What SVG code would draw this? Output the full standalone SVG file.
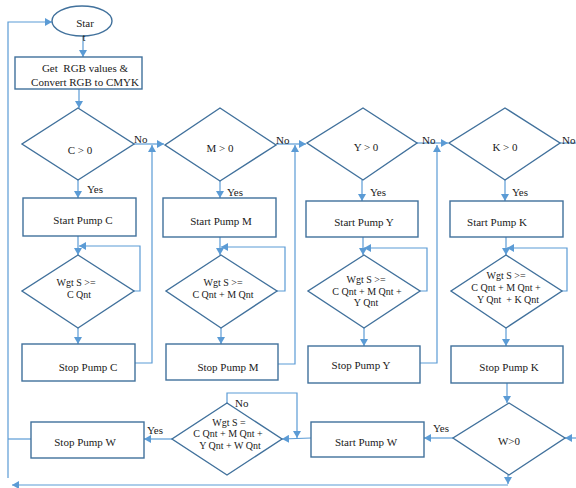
<svg xmlns="http://www.w3.org/2000/svg" width="576" height="488" viewBox="0 0 576 488" font-family="'Liberation Serif', 'Times New Roman', serif">
<defs>
<marker id="ah" markerUnits="userSpaceOnUse" markerWidth="8" markerHeight="8" refX="7" refY="4" orient="auto">
<path d="M0,0 L7,4 L0,8 z" fill="#5B9BD5"/>
</marker>
<style>
.s{fill:#fff;stroke:#41719C;stroke-width:1.4}
.c{fill:none;stroke:#5B9BD5;stroke-width:1.2}
.a{marker-end:url(#ah)}
text{font-family:'Liberation Serif','Times New Roman',serif;fill:#1a1a1a;font-size:11px}
.m{text-anchor:middle}
.d{font-size:10px}
</style>
</defs>
<rect width="576" height="488" fill="#fff"/>
<g id="connectors">
<polyline class="c a" points="8,478 8,22 52,22"/>
<line class="c a" x1="83" y1="36" x2="83" y2="57"/>
<line class="c a" x1="79" y1="89" x2="79" y2="108"/>
<line class="c a" x1="78" y1="180" x2="78" y2="198"/>
<line class="c a" x1="133" y1="144" x2="164" y2="144"/>
<line class="c a" x1="78" y1="236" x2="78" y2="255"/>
<polyline class="c a" points="133,291 140,291 140,246 79,246"/>
<line class="c a" x1="78" y1="328" x2="78" y2="344"/>
<polyline class="c a" points="135,363 152,363 152,145"/>
<line class="c a" x1="220" y1="181" x2="220" y2="198"/>
<line class="c a" x1="276" y1="144" x2="306" y2="144"/>
<line class="c a" x1="220" y1="237" x2="220" y2="255"/>
<polyline class="c a" points="277,291 285,291 285,247 221,247"/>
<line class="c a" x1="221" y1="328" x2="221" y2="344"/>
<polyline class="c a" points="278,364 295,364 295,145"/>
<line class="c a" x1="362" y1="180" x2="362" y2="201"/>
<line class="c a" x1="417" y1="143" x2="448" y2="143"/>
<line class="c a" x1="363" y1="237" x2="363" y2="255"/>
<polyline class="c a" points="420,291 427,291 427,248 364,248"/>
<line class="c a" x1="364" y1="328" x2="364" y2="346"/>
<polyline class="c a" points="420,363 437,363 437,145"/>
<line class="c a" x1="505" y1="180" x2="505" y2="201"/>
<line class="c" x1="560" y1="143" x2="576" y2="143"/>
<line class="c a" x1="506" y1="237" x2="506" y2="255"/>
<polyline class="c a" points="562,291 567,291 567,248 507,248"/>
<line class="c a" x1="506" y1="328" x2="506" y2="346"/>
<line class="c a" x1="507" y1="383" x2="507" y2="403"/>
<line class="c a" x1="577" y1="438" x2="565" y2="438"/>
<line class="c a" x1="453" y1="438" x2="424" y2="438"/>
<line class="c a" x1="311" y1="438" x2="282" y2="439"/>
<polyline class="c a" points="227,403 227,393 297,393 297,438"/>
<line class="c a" x1="172" y1="439" x2="144" y2="439"/>
<line class="c" x1="31" y1="439" x2="8" y2="439"/>
<line class="c a" x1="508" y1="475" x2="508" y2="484"/>
<polyline class="c a" points="508,485 12,485"/>
</g>
<g id="start"><ellipse class="s" cx="82" cy="21" rx="30" ry="15"/><text class="m" x="85" y="27">Star</text><text class="m" x="84" y="41">t</text></g>
<g id="getrgb"><rect class="s" x="15" y="57" width="127" height="32"/><text class="m" x="85" y="72" xml:space="preserve">Get  RGB values &amp;</text><text class="m" x="85" y="86">Convert RGB to CMYK</text></g>
<g id="c0"><polygon class="s" points="78,108 134,144 78,180 22,144"/><text class="m" x="80" y="154">C &gt; 0</text></g>
<g id="m0"><polygon class="s" points="220,108 276,145 220,181 165,145"/><text class="m" x="220" y="152">M &gt; 0</text></g>
<g id="y0"><polygon class="s" points="363,108 417,143 363,180 307,143"/><text class="m" x="366" y="151">Y &gt; 0</text></g>
<g id="k0"><polygon class="s" points="505,108 560,143 505,180 449,143"/><text class="m" x="505" y="151">K &gt; 0</text></g>
<g id="startC"><rect class="s" x="23" y="198" width="113" height="38"/><text class="m" x="83" y="224">Start Pump C</text></g>
<g id="startM"><rect class="s" x="163" y="198" width="113" height="39"/><text class="m" x="221" y="225">Start Pump M</text></g>
<g id="startY"><rect class="s" x="306" y="201" width="112" height="36"/><text class="m" x="364" y="226">Start Pump Y</text></g>
<g id="startK"><rect class="s" x="450" y="201" width="113" height="36"/><text class="m" x="497" y="226">Start Pump K</text></g>
<g id="wgtC"><polygon class="s" points="78,255 134,291 78,328 22,291"/><text class="m d" x="76" y="286">Wgt S &gt;=</text><text class="m d" x="79" y="298">C Qnt</text></g>
<g id="wgtM"><polygon class="s" points="221,255 277,291 221,328 166,291"/><text class="m d" x="223" y="286">Wgt S &gt;=</text><text class="m d" x="223" y="298">C Qnt + M Qnt</text></g>
<g id="wgtY"><polygon class="s" points="364,255 420,291 364,328 308,291"/><text class="m d" x="366" y="283">Wgt S &gt;=</text><text class="m d" x="367" y="295">C Qnt + M Qnt +</text><text class="m d" x="366" y="306">Y Qnt</text></g>
<g id="wgtK"><polygon class="s" points="506,255 562,291 506,328 451,291"/><text class="m d" x="506" y="279">Wgt S &gt;=</text><text class="m d" x="506" y="291">C Qnt + M Qnt +</text><text class="m d" x="508" y="303" xml:space="preserve">Y Qnt  + K Qnt</text></g>
<g id="stopC"><rect class="s" x="22" y="344" width="113" height="37"/><text class="m" x="88" y="371">Stop Pump C</text></g>
<g id="stopM"><rect class="s" x="166" y="344" width="112" height="36"/><text class="m" x="228" y="371">Stop Pump M</text></g>
<g id="stopY"><rect class="s" x="308" y="346" width="112" height="37"/><text class="m" x="361" y="369">Stop Pump Y</text></g>
<g id="stopK"><rect class="s" x="451" y="346" width="112" height="37"/><text class="m" x="509" y="371">Stop Pump K</text></g>
<g id="w0"><polygon class="s" points="509,403 565,438 509,475 453,438"/><text class="m" x="509" y="445">W&gt;0</text></g>
<g id="startW"><rect class="s" x="311" y="422" width="113" height="35"/><text class="m" x="366" y="446">Start Pump W</text></g>
<g id="wgtW"><polygon class="s" points="227,403 282,439 227,475 172,439"/><text class="m d" x="229" y="426">Wgt S =</text><text class="m d" x="228" y="437">C Qnt + M Qnt +</text><text class="m d" x="230" y="449">Y Qnt + W Qnt</text></g>
<g id="stopW"><rect class="s" x="31" y="422" width="113" height="36"/><text class="m" x="85" y="446">Stop Pump W</text></g>
<g id="labels">
<text x="134" y="143">No</text>
<text x="276" y="144">No</text>
<text x="422" y="144">No</text>
<text x="562" y="144">No</text>
<text x="87" y="193">Yes</text>
<text x="227" y="196">Yes</text>
<text x="370" y="196">Yes</text>
<text x="512" y="196">Yes</text>
<text x="433" y="432">Yes</text>
<text x="235" y="407">No</text>
<text x="147" y="434">Yes</text>
</g>
</svg>
